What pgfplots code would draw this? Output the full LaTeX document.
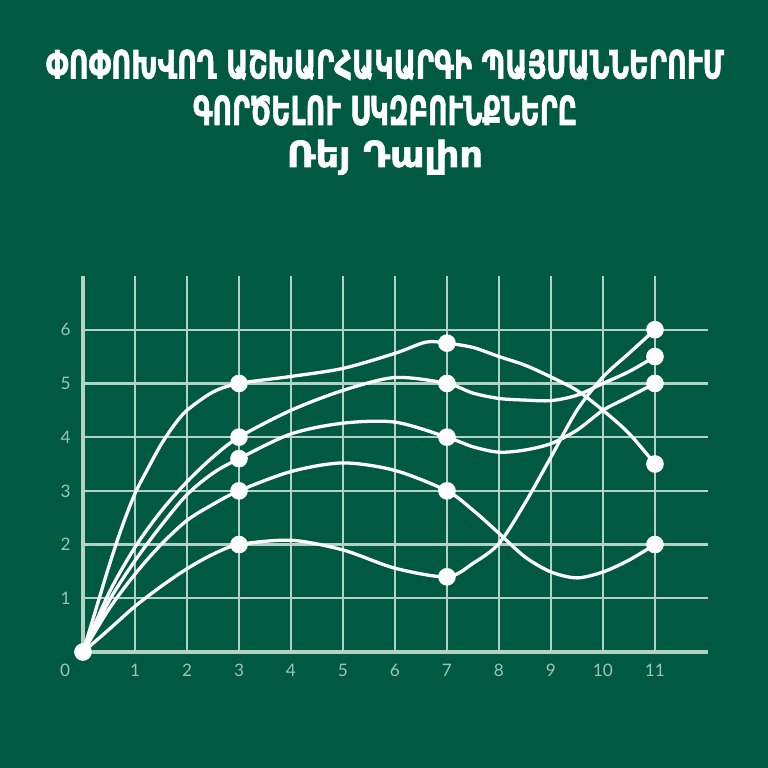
\documentclass[border=0pt]{standalone}
\usepackage{fontspec}
\usepackage{graphicx}
\usepackage{pgfplots}
\pgfplotsset{compat=1.18}
\newfontfamily\armfont[FakeBold=1.6]{DejaVu Sans}
\newfontfamily\tickfont{Lato}
\definecolor{bg}{RGB}{0,90,65}
\definecolor{gridc}{RGB}{178,210,196}
\definecolor{tickc}{RGB}{160,196,180}

\begin{document}
\begin{tikzpicture}
% background, 768 px = 384 pt
\fill[bg] (0,0) rectangle (384pt,384pt);
\useasboundingbox (0,0) rectangle (384pt,384pt);

% title
\node[anchor=base, inner sep=0, text=white] at (192.5pt,344.75pt)
  {\resizebox{339pt}{\height}{\armfont\bfseries\fontsize{19.5pt}{20pt}\selectfont ՓՈՓՈԽՎՈՂ ԱՇԽԱՐՀԱԿԱՐԳԻ ՊԱՅՄԱՆՆԵՐՈՒՄ}};
\node[anchor=base, inner sep=0, text=white] at (192.5pt,321.5pt)
  {\resizebox{192pt}{\height}{\armfont\bfseries\fontsize{20pt}{21pt}\selectfont ԳՈՐԾԵԼՈՒ ՍԿԶԲՈՒՆՔՆԵՐԸ}};
\node[anchor=base, inner sep=0, text=white] at (192.5pt,300.5pt)
  {\resizebox{98pt}{\height}{\armfont\bfseries\fontsize{18pt}{19pt}\selectfont Ռեյ Դալիո}};

\begin{axis}[
    at={(41.5pt,58pt)}, anchor=south west,
    scale only axis,
    width=312.5pt, height=188pt,
    xmin=0, xmax=12.02,
    ymin=0, ymax=7,
    clip=false,
    axis x line=bottom, axis y line=left,
    axis line style={-, gridc, line width=2.4pt},
    xtick={1,...,11}, ytick={1,...,6},
    major tick length=0pt,
    grid=major,
    grid style={gridc, line width=1.1pt},
    ticklabel style={font=\tickfont\fontsize{8.6pt}{10pt}\selectfont, text=tickc},
    /pgf/number format/assume math mode=true,
    xticklabel style={anchor=center, yshift=-9pt},
    yticklabel style={anchor=center, xshift=-8.75pt},
    curve/.style={white, line width=1.65pt, smooth, no marks},
    dot/.style={only marks, mark=*, mark size=4.2pt, white, mark options={white, fill=white}},
]

% curves, values
\addplot[curve] coordinates {
  (0,0) (0.25,0.8) (0.5,1.6) (0.75,2.33) (1,2.95) (1.25,3.42) (1.5,3.86)
  (1.75,4.22) (2,4.5) (2.5,4.84) (3,5)
  (4,5.13) (5,5.28) (6,5.56) (6.6,5.77) (7,5.75) (7.5,5.67) (8,5.5)
  (8.5,5.34) (9,5.12) (9.5,4.87) (10,4.5) (10.5,4.07) (11,3.5)};
\addplot[curve] coordinates {
  (0,0) (0.5,1.1) (1,1.95) (1.5,2.62) (2,3.17) (2.5,3.63) (3,4)
  (4,4.5) (5,4.87) (6,5.11) (7,5) (7.5,4.82) (8,4.72) (8.5,4.69)
  (9,4.68) (9.5,4.78) (10,5.0) (10.5,5.22) (11,5.5)};
\addplot[curve] coordinates {
  (0,0) (0.5,0.95) (1,1.7) (1.5,2.35) (2,2.93) (2.5,3.33) (3,3.6)
  (4,4.06) (5,4.26) (6,4.28) (7,4) (7.5,3.82) (8,3.72) (8.5,3.76)
  (9,3.88) (9.5,4.13) (10,4.5) (10.5,4.75) (11,5)};
\addplot[curve] coordinates {
  (0,0) (0.5,0.8) (1,1.45) (1.5,2.0) (2,2.45) (2.5,2.75) (3,3)
  (4,3.36) (5,3.52) (6,3.38) (7,3) (7.5,2.64) (8,2.21) (8.5,1.77)
  (9,1.49) (9.5,1.38) (10,1.49) (10.5,1.71) (11,2)};
\addplot[curve] coordinates {
  (0,0) (0.5,0.42) (1,0.85) (1.5,1.22) (2,1.55) (2.5,1.82) (3,2)
  (4,2.08) (5,1.9) (6,1.56) (7,1.4) (7.5,1.65) (8,2.02) (8.5,2.77)
  (9,3.63) (9.5,4.5) (10,5.12) (10.5,5.56) (11,6)};

% dots
\addplot[dot] coordinates {(0,0)};
\addplot[dot] coordinates {(3,5) (7,5.75) (11,3.5)};
\addplot[dot] coordinates {(3,4) (7,5) (11,5.5)};
\addplot[dot] coordinates {(3,3.6) (7,4) (11,5)};
\addplot[dot] coordinates {(3,3) (7,3) (11,2)};
\addplot[dot] coordinates {(3,2) (7,1.4) (11,6)};

\node[font=\tickfont\fontsize{8.6pt}{10pt}\selectfont, text=tickc]
  at (axis cs:0,0) [xshift=-9pt, yshift=-9pt] {0};
\end{axis}
\end{tikzpicture}
\end{document}
